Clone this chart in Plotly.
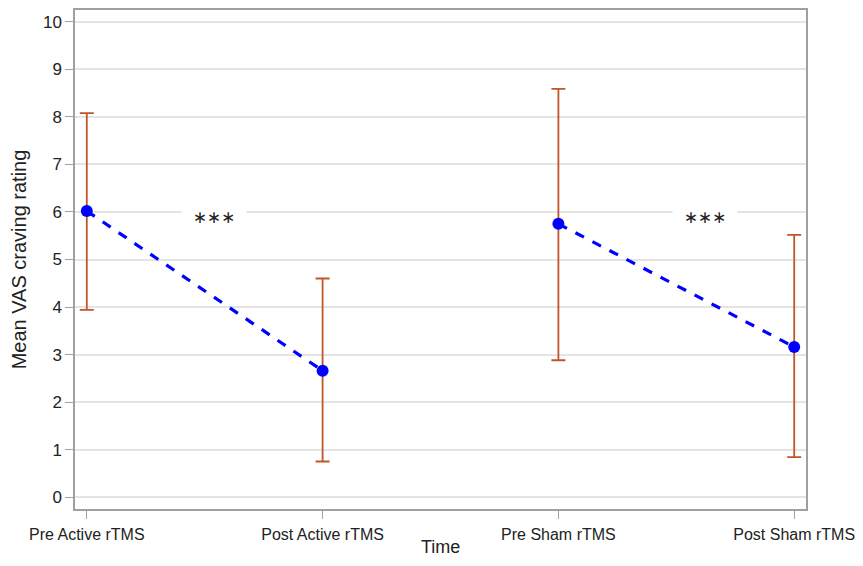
import plotly.graph_objects as go

categories = ["Pre Active rTMS", "Post Active rTMS", "Pre Sham rTMS", "Post Sham rTMS"]
means = [6.02, 2.66, 5.75, 3.16]
upper = [8.08, 4.60, 8.59, 5.52]
lower = [3.94, 0.75, 2.88, 0.84]
pairs = [(0, 1), (2, 3)]
sig_labels = ["∗∗∗", "∗∗∗"]
sig_x = [0.54, 2.62]
sig_y = [5.9, 5.9]

xpos = list(range(len(categories)))
err_plus = [u - m for u, m in zip(upper, means)]
err_minus = [m - l for m, l in zip(means, lower)]

fig = go.Figure()
for a, b in pairs:
    fig.add_trace(go.Scatter(
        x=[xpos[a], xpos[b]], y=[means[a], means[b]], mode="lines",
        line=dict(color="#0000ff", width=3.2, dash="dash"),
        hoverinfo="skip", showlegend=False))

fig.add_trace(go.Scatter(
    x=xpos, y=means, mode="markers",
    marker=dict(color="#0000ff", size=12),
    error_y=dict(type="data", symmetric=False, array=err_plus, arrayminus=err_minus,
                 color="#c0562a", thickness=1.8, width=7),
    showlegend=False))

for sx, sy, lab in zip(sig_x, sig_y, sig_labels):
    fig.add_annotation(x=sx, y=sy, text=lab, showarrow=False, bgcolor="white",
                       width=62, height=24,
                       font=dict(family="DejaVu Sans", size=17, color="#222222"))

# x-axis title placed just below the tick labels
fig.add_annotation(x=0.5, y=0, xref="paper", yref="paper", text="Time",
                   showarrow=False, yanchor="bottom", yshift=-50,
                   font=dict(family="Liberation Sans, Arial", size=18, color="#222222"))

axis_common = dict(showline=True, linecolor="#a0a0a0", linewidth=1.5, mirror=True,
                   ticks="outside", tickcolor="#a0a0a0", ticklen=8,
                   zeroline=False, automargin=False)

fig.update_layout(
    width=847, height=550,
    margin=dict(l=67, r=49, t=2, b=49),
    paper_bgcolor="white", plot_bgcolor="white",
    font=dict(family="Liberation Sans, Arial", size=17, color="#222222"),
    xaxis=dict(range=[-0.05, 3.05], tickvals=xpos, ticktext=categories,
               showgrid=False, ticklabeloverflow="allow", ticklabelstandoff=2,
               tickfont=dict(family="Liberation Sans, Arial", size=16, color="#222222"),
               **axis_common),
    yaxis=dict(range=[-0.25, 10.25], tickvals=list(range(0, 11)),
               showgrid=True, gridcolor="#e4e4e4", gridwidth=1.5,
               tickfont=dict(family="Liberation Sans, Arial", size=17, color="#222222"),
               title=dict(text="Mean VAS craving rating", font=dict(size=20), standoff=12),
               **axis_common),
)

fig.write_html("out.html")
